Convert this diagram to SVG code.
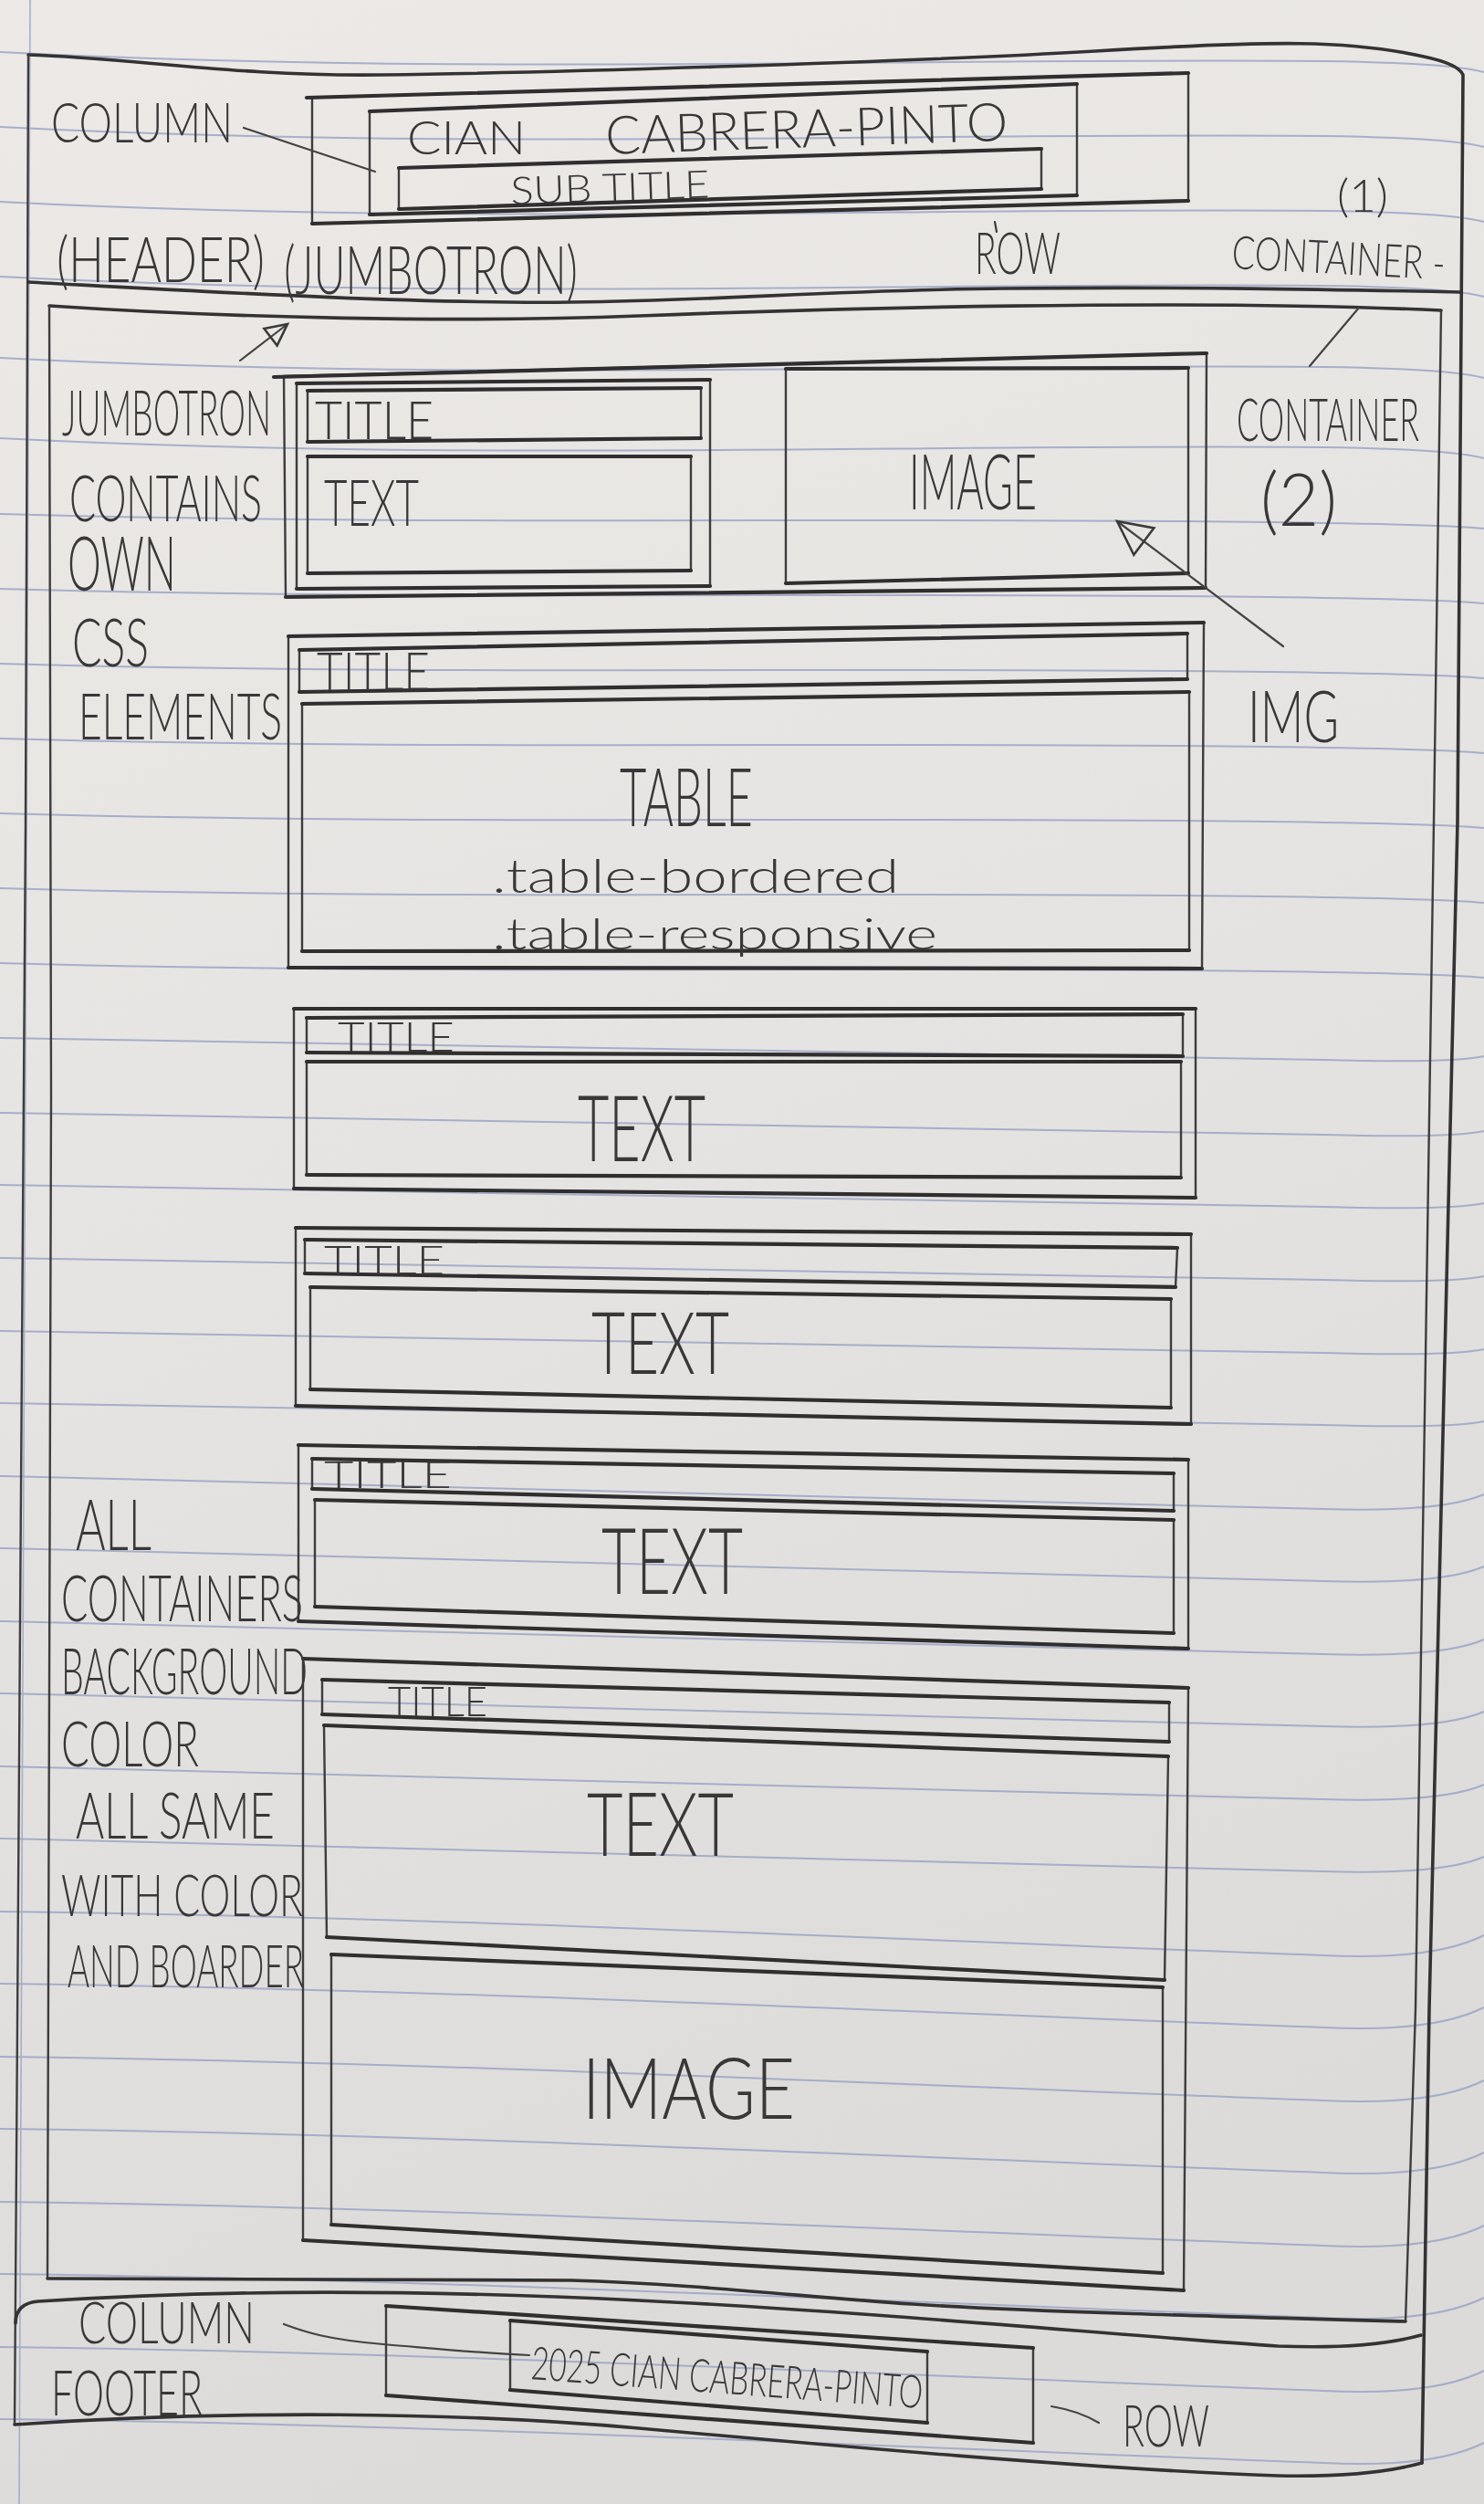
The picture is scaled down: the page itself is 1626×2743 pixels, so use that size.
<svg xmlns="http://www.w3.org/2000/svg" xmlns:xlink="http://www.w3.org/1999/xlink" width="1626" height="2743" viewBox="0 0 1626 2743">
  <defs>
    <linearGradient id="paperTone" x1="0" y1="0" x2="0.25" y2="1">
      <stop offset="0" stop-color="#ece9e6"/>
      <stop offset="0.5" stop-color="#e6e4e2"/>
      <stop offset="1" stop-color="#dcdbd9"/>
    </linearGradient>
    <!-- ruled-line shapes, one per band of the sheet -->
    <path id="rl1" d="M0,0 C500,26 1000,6 1450,10 Q1590,12 1626,22"/>
    <path id="rl2" d="M0,0 C500,14 1000,2 1450,10 Q1590,12 1626,16"/>
    <path id="rl3" d="M0,0 C500,10 1000,14 1450,24 Q1590,28 1626,20"/>
    <path id="rl4" d="M0,0 C500,8 1000,24 1450,36 Q1580,40 1626,20"/>
    <path id="rl5" d="M0,0 C500,6 1000,32 1450,48 Q1570,54 1626,26"/>
    <marker id="head" viewBox="0 0 12 12" refX="11" refY="6" markerWidth="28" markerHeight="28" markerUnits="userSpaceOnUse" orient="auto">
      <path d="M1,1 L11,6 L1,11 Z" fill="none" stroke="#3a3838" stroke-width="1.1"/>
    </marker>
    <marker id="headL" viewBox="0 0 12 12" refX="11" refY="6" markerWidth="44" markerHeight="44" markerUnits="userSpaceOnUse" orient="auto">
      <path d="M1,1 L11,6 L1,11 Z" fill="none" stroke="#3a3838" stroke-width="0.7"/>
    </marker>
  </defs>
  <style>
    .rule { fill: none; stroke: #9ba4c6; stroke-width: 2; opacity: 0.85; }
    .v { fill: none; stroke: #3e3c3c; stroke-width: 2.4; stroke-linejoin: round; }
    .h { fill: none; stroke: #302e2e; stroke-width: 4.2; stroke-linecap: round; }
    .frame { fill: none; stroke: #343232; stroke-width: 3.6; stroke-linecap: round; stroke-linejoin: round; }
    .thin { fill: none; stroke: #3e3c3c; stroke-width: 2.2; stroke-linecap: round; }
    .lead { fill: none; stroke: #454343; stroke-width: 2.2; stroke-linecap: round; }
    .hw { font-family: Lato, "Liberation Sans", sans-serif; font-weight: 300; fill: #393737; }
  </style>

  <!-- sheet of ruled paper -->
  <rect x="0" y="0" width="1626" height="2743" fill="url(#paperTone)"/>
  <g id="ruling" class="rule">
    <use href="#rl1" y="57"/><use href="#rl1" y="139"/><use href="#rl1" y="221"/><use href="#rl1" y="303"/>
    <use href="#rl1" y="392"/><use href="#rl1" y="480"/>
    <use href="#rl2" y="563"/><use href="#rl2" y="645"/><use href="#rl2" y="727"/><use href="#rl2" y="809"/>
    <use href="#rl2" y="891"/><use href="#rl2" y="973"/><use href="#rl2" y="1055"/>
    <use href="#rl3" y="1137"/><use href="#rl3" y="1219"/><use href="#rl3" y="1298"/><use href="#rl3" y="1378"/>
    <use href="#rl3" y="1458"/><use href="#rl3" y="1537"/>
    <use href="#rl4" y="1617"/><use href="#rl4" y="1696"/><use href="#rl4" y="1776"/><use href="#rl4" y="1855"/>
    <use href="#rl4" y="1935"/><use href="#rl4" y="2014"/>
    <use href="#rl5" y="2094"/><use href="#rl5" y="2173"/><use href="#rl5" y="2253"/><use href="#rl5" y="2332"/>
    <use href="#rl5" y="2412"/><use href="#rl5" y="2491"/><use href="#rl5" y="2571"/><use href="#rl5" y="2650"/>
    <path d="M33,0 L21,2743" stroke-width="1.6"/>
  </g>

  <!-- page container (1) -->
  <g id="container-1">
    <path class="frame" d="M31,60 C150,64 260,84 420,82 S1000,68 1200,56 S1480,44 1560,62 Q1598,70 1603,82 L1597,900 L1566,2200 L1558,2698"/>
    <path class="v" d="M31,60 L28,900 L16,2656"/>
  </g>

  <!-- header row -->
  <g id="header-row">
    <path class="frame" d="M31,309 C200,318 450,333 626,331 S900,318 1100,316 S1450,317 1601,320"/>
  </g>
  <g id="header-column">
    <polygon class="v" points="342,107 1302,80 1302,220 342,245"/>
    <path class="h" d="M336,107 L1302,80 M342,245 L1302,220" stroke-width="3.4"/>
  </g>
  <g id="header-title">
    <polygon class="v" points="405,122 1180,92 1180,214 405,235"/>
    <path class="h" d="M405,122 L1180,92 M405,235 L1180,214"/>
    <text class="hw" x="446" y="169" font-size="52" textLength="130" lengthAdjust="spacingAndGlyphs">CIAN</text>
    <text class="hw" x="664" y="169" font-size="58" textLength="441" lengthAdjust="spacingAndGlyphs" transform="rotate(-2 664 169)">CABRERA-PINTO</text>
  </g>
  <g id="header-subtitle">
    <polygon class="v" points="437,184 1141,163 1141,207 437,229"/>
    <path class="h" d="M437,184 L1141,163 M437,229 L1141,207" stroke-width="3.6"/>
    <text class="hw" x="560" y="224" font-size="42" textLength="218" lengthAdjust="spacingAndGlyphs" transform="rotate(-2 560 224)">SUB TITLE</text>
  </g>

  <!-- container (2) -->
  <g id="container-2">
    <path class="frame" d="M54,335 C250,348 500,354 700,346 S1300,327 1579,340"/>
    <path class="v" d="M1579,340 L1571,900 L1551,2200 L1540,2543 M54,335 L56,1200 L52,2496"/>
    <path class="frame" d="M52,2496 L626,2498 C760,2502 880,2516 1000,2524 S1350,2538 1540,2543"/>
  </g>

  <!-- jumbotron row -->
  <g id="jumbotron-row">
    <polygon class="v" points="311,412 1322,387 1321,644 313,654"/>
    <path class="h" d="M300,413 L1322,387 M313,654 L1321,644"/>
  </g>
  <g id="jumbotron-column">
    <polygon class="v" points="325,420 778,416 778,642 325,645"/>
    <path class="h" d="M325,420 L778,416 M325,645 L778,642"/>
  </g>
  <g id="jumbotron-title">
    <polygon class="v" points="337,428 768,425 768,480 337,484"/>
    <path class="h" d="M337,428 L768,425 M337,484 L768,480"/>
    <text class="hw" x="345" y="481" font-size="58" textLength="130" lengthAdjust="spacingAndGlyphs">TITLE</text>
  </g>
  <g id="jumbotron-text">
    <polygon class="v" points="337,500 757,500 757,625 337,628"/>
    <path class="h" d="M337,500 L757,500 M337,628 L757,625"/>
    <text class="hw" x="355" y="576" font-size="70" textLength="104" lengthAdjust="spacingAndGlyphs">TEXT</text>
  </g>
  <g id="jumbotron-image">
    <polygon class="v" points="861,404 1302,403 1302,628 861,639"/>
    <path class="h" d="M861,404 L1302,403 M861,639 L1302,628"/>
    <text class="hw" x="996" y="558" font-size="84" textLength="140" lengthAdjust="spacingAndGlyphs">IMAGE</text>
  </g>

  <!-- table section -->
  <g id="table-box">
    <polygon class="v" points="316,697 1319,682 1317,1061 316,1060"/>
    <path class="h" d="M316,697 L1319,682 M316,1060 L1317,1061"/>
  </g>
  <g id="table-title">
    <polygon class="v" points="328,712 1301,694 1301,744 328,758"/>
    <path class="h" d="M328,712 L1301,694 M328,758 L1301,744"/>
    <text class="hw" x="347" y="756" font-size="58" textLength="124" lengthAdjust="spacingAndGlyphs">TITLE</text>
  </g>
  <g id="table-body">
    <polygon class="v" points="331,771 1303,758 1303,1041 331,1042"/>
    <path class="h" d="M331,771 L1303,758 M331,1042 L1303,1041"/>
    <text class="hw" x="679" y="905" font-size="88" textLength="146" lengthAdjust="spacingAndGlyphs">TABLE</text>
    <text class="hw" x="539" y="978" font-size="52" textLength="446" lengthAdjust="spacingAndGlyphs">.table-bordered</text>
    <text class="hw" x="539" y="1040" font-size="48" textLength="488" lengthAdjust="spacingAndGlyphs">.table-responsive</text>
  </g>

  <!-- text section 1 -->
  <g id="section-1">
    <polygon class="v" points="322,1105 1310,1105 1310,1312 322,1302"/>
    <path class="h" d="M322,1105 L1310,1105 M322,1302 L1310,1312"/>
    <polygon class="v" points="336,1115 1296,1111 1296,1157 336,1153"/>
    <path class="h" d="M336,1115 L1296,1111 M336,1153 L1296,1157"/>
    <polygon class="v" points="336,1163 1294,1163 1294,1290 336,1287"/>
    <path class="h" d="M336,1163 L1294,1163 M336,1287 L1294,1290"/>
    <text class="hw" x="370" y="1152" font-size="46" textLength="128" lengthAdjust="spacingAndGlyphs">TITLE</text>
    <text class="hw" x="633" y="1272" font-size="100" textLength="140" lengthAdjust="spacingAndGlyphs">TEXT</text>
  </g>

  <!-- text section 2 -->
  <g id="section-2">
    <polygon class="v" points="324,1345 1305,1352 1305,1560 324,1540"/>
    <path class="h" d="M324,1345 L1305,1352 M324,1540 L1305,1560"/>
    <polygon class="v" points="334,1358 1290,1367 1288,1410 334,1395"/>
    <path class="h" d="M334,1358 L1290,1367 M334,1395 L1288,1410"/>
    <polygon class="v" points="340,1410 1283,1423 1283,1542 340,1522"/>
    <path class="h" d="M340,1410 L1283,1423 M340,1522 L1283,1542"/>
    <text class="hw" x="355" y="1396" font-size="44" textLength="132" lengthAdjust="spacingAndGlyphs">TITLE</text>
    <text class="hw" x="648" y="1505" font-size="94" textLength="151" lengthAdjust="spacingAndGlyphs">TEXT</text>
  </g>

  <!-- text section 3 -->
  <g id="section-3">
    <polygon class="v" points="327,1583 1302,1599 1302,1806 327,1776"/>
    <path class="h" d="M327,1583 L1302,1599 M327,1776 L1302,1806"/>
    <polygon class="v" points="342,1598 1286,1614 1286,1655 342,1631"/>
    <path class="h" d="M342,1598 L1286,1614 M342,1631 L1286,1655"/>
    <polygon class="v" points="345,1643 1286,1665 1286,1789 345,1760"/>
    <path class="h" d="M345,1643 L1286,1665 M345,1760 L1286,1789"/>
    <text class="hw" x="355" y="1630" font-size="42" textLength="140" lengthAdjust="spacingAndGlyphs">TITLE</text>
    <text class="hw" x="659" y="1746" font-size="100" textLength="155" lengthAdjust="spacingAndGlyphs">TEXT</text>
  </g>

  <!-- text and image section -->
  <g id="section-4">
    <polygon class="v" points="332,1817 1302,1849 1297,2509 332,2454"/>
    <path class="h" d="M332,1817 L1302,1849 M332,2454 L1297,2509"/>
    <polygon class="v" points="353,1840 1281,1865 1281,1908 353,1878"/>
    <path class="h" d="M353,1840 L1281,1865 M353,1878 L1281,1908"/>
    <text class="hw" x="425" y="1880" font-size="46" textLength="109" lengthAdjust="spacingAndGlyphs">TITLE</text>
  </g>
  <g id="section-4-text">
    <polygon class="v" points="355,1890 1280,1924 1276,2169 358,2122"/>
    <path class="h" d="M355,1890 L1280,1924 M358,2122 L1276,2169"/>
    <text class="hw" x="643" y="2033" font-size="96" textLength="161" lengthAdjust="spacingAndGlyphs">TEXT</text>
  </g>
  <g id="section-4-image">
    <polygon class="v" points="363,2141 1274,2177 1274,2490 363,2437"/>
    <path class="h" d="M363,2141 L1274,2177 M363,2437 L1274,2490"/>
    <text class="hw" x="638" y="2321" font-size="92" textLength="233" lengthAdjust="spacingAndGlyphs">IMAGE</text>
  </g>

  <!-- footer row -->
  <g id="footer-row">
    <path class="frame" d="M17,2545 Q17,2523 42,2521 C250,2508 450,2508 700,2520 S1250,2560 1400,2570 Q1500,2574 1557,2558"/>
    <path class="frame" d="M16,2656 C250,2640 500,2642 700,2660 S1200,2705 1400,2712 Q1500,2714 1558,2698"/>
  </g>
  <g id="footer-column">
    <polygon class="v" points="423,2526 1132,2572 1132,2676 423,2624"/>
    <path class="h" d="M423,2526 L1132,2572 M423,2624 L1132,2676" stroke-width="3"/>
  </g>
  <g id="footer-text">
    <polygon class="v" points="559,2542 1016,2576 1016,2654 559,2618"/>
    <path class="h" d="M559,2542 L1016,2576 M559,2618 L1016,2654" stroke-width="3"/>
    <text class="hw" x="581" y="2606" font-size="50" textLength="430" lengthAdjust="spacingAndGlyphs" transform="rotate(4.3 581 2606)">2025 CIAN CABRERA-PINTO</text>
  </g>

  <!-- margin notes: tall, narrow hand lettering (stretched upward from each baseline) -->
  <g id="notes">
    <text class="hw" x="56" y="156" font-size="46" textLength="199" lengthAdjust="spacingAndGlyphs" transform="matrix(1 0 0 1.34 0 -53.04)">COLUMN</text>
    <text class="hw" x="62" y="309" font-size="50" textLength="228" lengthAdjust="spacingAndGlyphs" transform="matrix(1 0 0 1.4 0 -123.6)">(HEADER)</text>
    <text class="hw" x="311" y="322" font-size="47" textLength="322" lengthAdjust="spacingAndGlyphs" transform="matrix(1 0 0 1.57 0 -183.54)">(JUMBOTRON)</text>
    <text class="hw" x="1068" y="300" font-size="39" textLength="94" lengthAdjust="spacingAndGlyphs" transform="matrix(1 0 0 1.6 0 -180)">ROW</text>
    <path class="thin" d="M1090,243 L1092,254"/>
    <text class="hw" x="1465" y="232" font-size="46" textLength="56" lengthAdjust="spacingAndGlyphs" transform="matrix(1 0 0 1.09 0 -20.88)">(1)</text>
    <text class="hw" x="1349" y="294" font-size="37" textLength="234" lengthAdjust="spacingAndGlyphs" transform="rotate(3 1349 294) matrix(1 0 0 1.36 0 -105.84)">CONTAINER -</text>
    <text class="hw" x="1355" y="483" font-size="35" textLength="200" lengthAdjust="spacingAndGlyphs" transform="matrix(1 0 0 1.83 0 -400.89)">CONTAINER</text>
    <text class="hw" x="1381" y="576" font-size="69" textLength="84" lengthAdjust="spacingAndGlyphs" transform="matrix(1 0 0 1.16 0 -92.16)">(2)</text>
    <text class="hw" x="68" y="477" font-size="37" textLength="229" lengthAdjust="spacingAndGlyphs" transform="matrix(1 0 0 1.88 0 -419.76)">JUMBOTRON</text>
    <text class="hw" x="76" y="571" font-size="42" textLength="211" lengthAdjust="spacingAndGlyphs" transform="matrix(1 0 0 1.68 0 -388.28)">CONTAINS</text>
    <text class="hw" x="74" y="647" font-size="46" textLength="119" lengthAdjust="spacingAndGlyphs" transform="matrix(1 0 0 1.8 0 -517.6)">OWN</text>
    <text class="hw" x="79" y="730" font-size="48" textLength="84" lengthAdjust="spacingAndGlyphs" transform="matrix(1 0 0 1.5 0 -365)">CSS</text>
    <text class="hw" x="86" y="810" font-size="45" textLength="223" lengthAdjust="spacingAndGlyphs" transform="matrix(1 0 0 1.56 0 -453.6)">ELEMENTS</text>
    <text class="hw" x="1367" y="813" font-size="52" textLength="100" lengthAdjust="spacingAndGlyphs" transform="matrix(1 0 0 1.5 0 -406.5)">IMG</text>
    <text class="hw" x="83" y="1698" font-size="49" textLength="83" lengthAdjust="spacingAndGlyphs" transform="matrix(1 0 0 1.55 0 -933.9)">ALL</text>
    <text class="hw" x="67" y="1776" font-size="42" textLength="265" lengthAdjust="spacingAndGlyphs" transform="matrix(1 0 0 1.7 0 -1243.2)">CONTAINERS</text>
    <text class="hw" x="67" y="1856" font-size="38" textLength="270" lengthAdjust="spacingAndGlyphs" transform="matrix(1 0 0 1.87 0 -1614.72)">BACKGROUND</text>
    <text class="hw" x="67" y="1935" font-size="44" textLength="151" lengthAdjust="spacingAndGlyphs" transform="matrix(1 0 0 1.57 0 -1102.95)">COLOR</text>
    <text class="hw" x="83" y="2014" font-size="47" textLength="218" lengthAdjust="spacingAndGlyphs" transform="matrix(1 0 0 1.49 0 -986.86)">ALL SAME</text>
    <text class="hw" x="67" y="2099" font-size="42" textLength="265" lengthAdjust="spacingAndGlyphs" transform="matrix(1 0 0 1.52 0 -1091.48)">WITH COLOR</text>
    <text class="hw" x="74" y="2177" font-size="36" textLength="259" lengthAdjust="spacingAndGlyphs" transform="matrix(1 0 0 1.81 0 -1763.37)">AND BOARDER</text>
    <text class="hw" x="86" y="2567" font-size="44" textLength="193" lengthAdjust="spacingAndGlyphs" transform="matrix(1 0 0 1.45 0 -1155.15)">COLUMN</text>
    <text class="hw" x="56" y="2646" font-size="42" textLength="166" lengthAdjust="spacingAndGlyphs" transform="matrix(1 0 0 1.65 0 -1719.9)">FOOTER</text>
    <text class="hw" x="1230" y="2680" font-size="39" textLength="95" lengthAdjust="spacingAndGlyphs" transform="matrix(1 0 0 1.64 0 -1715.2)">ROW</text>
  </g>

  <!-- leader lines and arrows -->
  <g id="connectors">
    <path class="lead" d="M267,140 L411,188"/>
    <path class="lead" d="M263,395 L315,355" marker-end="url(#head)"/>
    <path class="lead" d="M1489,337 L1435,401"/>
    <path class="lead" d="M1406,708 L1224,571" marker-end="url(#headL)"/>
    <path class="lead" d="M311,2546 C335,2555 360,2563 420,2568 S530,2578 580,2580"/>
    <path class="lead" d="M1152,2636 Q1182,2641 1204,2654"/>
  </g>
</svg>
